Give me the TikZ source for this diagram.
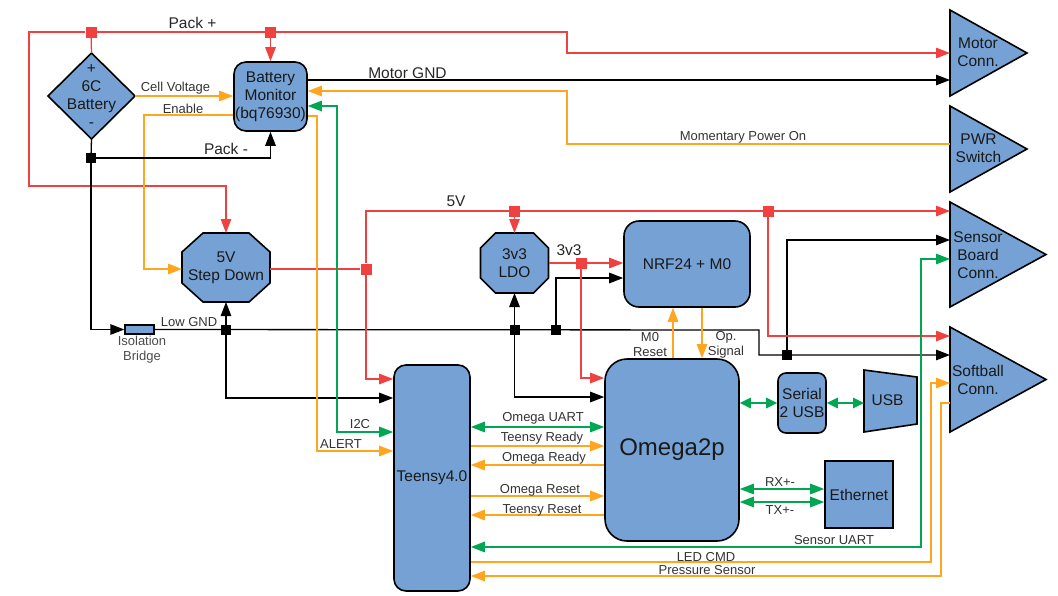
\documentclass[tikz,border=0pt]{standalone}
\usepackage{fontspec}
\setmainfont{Liberation Sans}
\usetikzlibrary{arrows.meta,calc}
\definecolor{fillb}{HTML}{75A1D4}
\definecolor{cred}{HTML}{F04141}
\definecolor{corange}{HTML}{FFA51F}
\definecolor{cgreen}{HTML}{00A651}
\definecolor{ctext}{HTML}{333333}
\tikzset{
  nfont/.style={font=\fontsize{15.5}{18}\selectfont},
  blk/.style={draw=black, line width=1.6pt, fill=fillb, inner sep=0pt, nfont, align=center, text=black!90},
  rbox/.style={blk, rounded corners=12pt},
  bbox/.style={inner sep=0pt, outer sep=0pt},
  shp/.style={draw=black, line width=1.6pt, fill=fillb, line join=miter},
  ntext/.style={nfont, align=center, inner sep=0pt, text=black!90},
  wire/.style={line width=1.3pt},
  rw/.style={wire, draw=cred},
  ow/.style={wire, draw=corange},
  gw/.style={wire, draw=cgreen},
  kw/.style={wire, draw=black},
  ar/.style={-{Triangle[length=14pt,width=10.5pt]}},
  bar/.style={{Triangle[length=14pt,width=10.5pt]}-{Triangle[length=14pt,width=10.5pt]}},
  sbar/.style={{Triangle[length=11pt,width=10.5pt]}-{Triangle[length=11pt,width=10.5pt]}},
  jr/.style={fill=cred, minimum size=11pt, inner sep=0pt, draw=none},
  jk/.style={fill=black, minimum size=10pt, inner sep=0pt, draw=none},
  lbl/.style={font=\fontsize{13}{15}\selectfont, text=ctext, inner sep=0pt, align=center},
  blbl/.style={font=\fontsize{15.5}{18}\selectfont, text=black!85, inner sep=0pt},
}
\begin{document}
\begin{tikzpicture}[x=1pt,y=-1pt]
\useasboundingbox (0,0) rectangle (1058,595);

% ---------- shapes ----------
% Battery diamond
\node[bbox, minimum width=87pt, minimum height=86pt] (bat) at (91.5,96) {};
\draw[shp] (bat.north) -- (bat.east) -- (bat.south) -- (bat.west) -- cycle;
\node[ntext] (battxt) at (bat) {+\\6C\\Battery\\-};

% Battery Monitor
\node[rbox, minimum width=73pt, minimum height=69pt] (mon) at (270.5,96.5) {Battery\\Monitor\\(bq76930)};

% Step down octagon
\node[bbox, minimum width=88pt, minimum height=69pt] (sd) at (226,267.5) {};
\draw[shp] ($(sd.north west)+(21,0)$) -- ($(sd.north east)+(-21,0)$) -- ($(sd.north east)+(0,19)$)
  -- ($(sd.south east)+(0,-19)$) -- ($(sd.south east)+(-21,0)$) -- ($(sd.south west)+(21,0)$)
  -- ($(sd.south west)+(0,-19)$) -- ($(sd.north west)+(0,19)$) -- cycle;
\node[ntext] (sdtxt) at (sd) {5V\\Step Down};

% LDO octagon
\node[bbox, minimum width=68pt, minimum height=60pt] (ldo) at (514.5,263) {};
\draw[shp] ($(ldo.north west)+(15,0)$) -- ($(ldo.north east)+(-15,0)$) -- ($(ldo.north east)+(0,15)$)
  -- ($(ldo.south east)+(0,-15)$) -- ($(ldo.south east)+(-15,0)$) -- ($(ldo.south west)+(15,0)$)
  -- ($(ldo.south west)+(0,-15)$) -- ($(ldo.north west)+(0,15)$) -- cycle;
\node[ntext] (ldotxt) at (ldo) {3v3\\LDO};

% NRF24
\node[rbox, rounded corners=15pt, minimum width=126pt, minimum height=86pt] (nrf) at (687,264) {NRF24 + M0};

% Teensy
\node[rbox, minimum width=76pt, minimum height=226pt] (teensy) at (432,478) {Teensy4.0};

% Omega2p
\node[rbox, rounded corners=22pt, minimum width=134pt, minimum height=182pt, font=\fontsize{24}{28}\selectfont] (omega) at (672,450) {Omega2p};

% Serial 2 USB
\node[rbox, rounded corners=8pt, minimum width=48pt, minimum height=60pt] (s2u) at (802,403) {Serial\\2 USB};

% USB trapezoid
\node[bbox, minimum width=53pt, minimum height=62pt] (usb) at (890.5,401) {};
\draw[shp] (usb.north west) -- ($(usb.north east)+(0,7)$) -- ($(usb.south east)+(0,-8)$) -- (usb.south west) -- cycle;
\node[ntext] (usbtxt) at (887.5,400) {USB};

% Ethernet
\node[blk, minimum width=68pt, minimum height=67pt] (eth) at (859,494.5) {Ethernet};

% Isolation bridge
\node[draw=black, line width=1.3pt, fill=fillb, minimum width=29pt, minimum height=9pt, inner sep=0pt] (ib) at (139.5,329.5) {};
\node[lbl, text=black!70] (ibtxt) at (142,350) {Isolation\\Bridge};

% Connectors (triangles)
\node[bbox, minimum width=77pt, minimum height=86pt] (mc) at (988.5,53) {};
\draw[shp] (mc.north west) -- (mc.east) -- (mc.south west) -- cycle;
\node[ntext] (mctxt) at (978,52) {Motor\\Conn.};

\node[bbox, minimum width=77pt, minimum height=86pt] (pwr) at (988.5,149) {};
\draw[shp] (pwr.north west) -- (pwr.east) -- (pwr.south west) -- cycle;
\node[ntext] (pwrtxt) at (978.5,148) {PWR\\Switch};

\node[bbox, minimum width=96pt, minimum height=105pt] (sbc) at (998,254.5) {};
\draw[shp] (sbc.north west) -- (sbc.east) -- (sbc.south west) -- cycle;
\node[ntext] (sbctxt) at (978,255) {Sensor\\Board\\Conn.};

\node[bbox, minimum width=96pt, minimum height=105pt] (sfc) at (998,379.5) {};
\draw[shp] (sfc.north west) -- (sfc.east) -- (sfc.south west) -- cycle;
\node[ntext] (sfctxt) at (978,380) {Softball\\Conn.};

% ---------- junctions ----------
\node[jr] (jp1) at (91,32) {};
\node[jr] (jp2) at (270.5,32) {};
\node[jk] (jm1) at (91,158) {};
\node[jk] (jg1) at (226,330) {};
\node[jk] (jg2) at (514.5,330) {};
\node[jk] (jg3) at (556,330) {};
\node[jk] (jg4) at (787,355) {};
\node[jr] (j5a) at (366,269) {};
\node[jr] (j5b) at (514.5,211) {};
\node[jr] (j5c) at (768,211) {};
\node[jr] (j3) at (581,263) {};

% ---------- wires ----------
% Pack +
\draw[rw] (bat.north) -- (jp1);
\draw[rw, ar] (jp2) -- (mon.north);
\draw[rw, ar] (jp1) -- (29,32) -- (29,186) -| (sd.north);
\draw[rw, ar] (jp1) -- (567,32) |- (mc.west);
\node[blbl] (lpackp) at (192.5,23) {Pack +};

% Motor GND
\draw[kw, ar] (mon.east |- 0,80) -- (mc.west |- 0,80);
\node[blbl] (lmgnd) at (407.5,73) {Motor GND};

% Momentary Power On
\draw[ow, ar] (pwr.west |- 0,144) -- (567,144) |- (mon.east |- 0,91);
\node[lbl] (lmpo) at (743,137.5) {Momentary Power On};

% Cell voltage
\draw[ow, ar] (bat.east) -- (mon.west |- bat.east);
\node[lbl] (lcv) at (175.5,88) {Cell Voltage};

% Enable
\draw[ow, ar] (mon.west |- 0,115) -| (144,269) -- (sd.west |- 0,269);
\node[lbl] (len) at (183,108.5) {Enable};

% Pack -
\draw[kw] (bat.south) -- (jm1);
\draw[kw, ar] (jm1) -| (mon.south);
\node[blbl] (lpackm) at (226,149) {Pack -};
\draw[kw, ar] (jm1) |- (ib.west);

% Low GND
\draw[kw, ar] (ib.east) -- (759,330) -- (759,355) -- (sfc.west |- 0,355);
\node[lbl] (llgnd) at (189,322.5) {Low GND};
\draw[kw, ar] (jg1) -- (sd.south);
\draw[kw, ar] (jg1) |- (teensy.west |- 0,398);
\draw[kw, ar] (jg2) -- (ldo.south);
\draw[kw, ar] (jg2) |- (omega.west |- 0,397);
\draw[kw, ar] (jg3) |- (nrf.west |- 0,278);
\draw[kw, ar] (jg4) |- (sbc.west |- 0,240);

% 5V
\draw[rw] (sd.east |- j5a) -- (j5a);
\draw[rw, ar] (j5a) |- (sbc.west |- 0,211);
\draw[rw, ar] (j5b) -- (ldo.north);
\draw[rw, ar] (j5c) |- (sfc.west |- 0,336);
\draw[rw, ar] (j5a) |- (teensy.west |- 0,379);
\node[blbl] (l5v) at (456,201) {5V};

% 3v3
\draw[rw, ar] (ldo.east) -- (nrf.west |- ldo.east);
\draw[rw, ar] (j3) |- (omega.west |- 0,378);
\node[blbl] (l3v3) at (569,250) {3v3};

% M0 Reset / Op. Signal
\draw[ow, ar] (omega.north -| 673,0) -- (nrf.south -| 673,0);
\draw[ow, ar] (nrf.south -| 702,0) -- (omega.north -| 702,0);
\node[lbl] (lm0) at (650,345) {M0\\Reset};
\node[lbl] (lop) at (726,345) {Op.\\Signal};

% Battery monitor <-> Teensy
\draw[gw, bar] (mon.east |- 0,106) -| (337,432) -- (teensy.west |- 0,432);
\node[lbl] (li2c) at (360,424) {I2C};
\draw[ow, ar] (mon.east |- 0,116) -| (317,451) -- (teensy.west |- 0,451);
\node[lbl] (lalert) at (341,444.5) {ALERT};

% Teensy <-> Omega
\draw[gw, bar] (teensy.east |- 0,427) -- (omega.west |- 0,427);
\node[lbl] (lou) at (543,418) {Omega UART};
\draw[ow, ar] (teensy.east |- 0,446) -- (omega.west |- 0,446);
\node[lbl] (ltr) at (542,438.5) {Teensy Ready};
\draw[ow, ar] (omega.west |- 0,465) -- (teensy.east |- 0,465);
\node[lbl] (lor) at (544,458.5) {Omega Ready};
\draw[ow, ar] (teensy.east |- 0,496) -- (omega.west |- 0,496);
\node[lbl] (lores) at (540,490) {Omega Reset};
\draw[ow, ar] (omega.west |- 0,515) -- (teensy.east |- 0,515);
\node[lbl] (ltres) at (542,510) {Teensy Reset};

% Sensor UART, LED CMD, Pressure Sensor
\draw[gw, bar] (teensy.east |- 0,547) -| (921,259) -- (sbc.west |- 0,259);
\node[lbl] (lsu) at (834,540.5) {Sensor UART};
\draw[ow, ar] (teensy.east |- 0,562) -| (931,383) -- (sfc.west |- 0,383);
\node[lbl] (lled) at (706,557) {LED CMD};
\draw[ow, ar] (sfc.west |- 0,403) -| (941,576) -- (teensy.east |- 0,576);
\node[lbl] (lps) at (707,570) {Pressure Sensor};

% Serial / USB / Ethernet
\draw[gw, sbar] (omega.east |- 0,403) -- (s2u.west |- 0,403);
\draw[gw, sbar] (s2u.east |- 0,403) -- (usb.west |- 0,403);
\draw[gw, bar] (omega.east |- 0,489) -- (eth.west |- 0,489);
\draw[gw, bar] (omega.east |- 0,502) -- (eth.west |- 0,502);
\node[lbl] (lrx) at (780,482.5) {RX+-};
\node[lbl] (ltx) at (780,510) {TX+-};
\end{tikzpicture}
\end{document}
